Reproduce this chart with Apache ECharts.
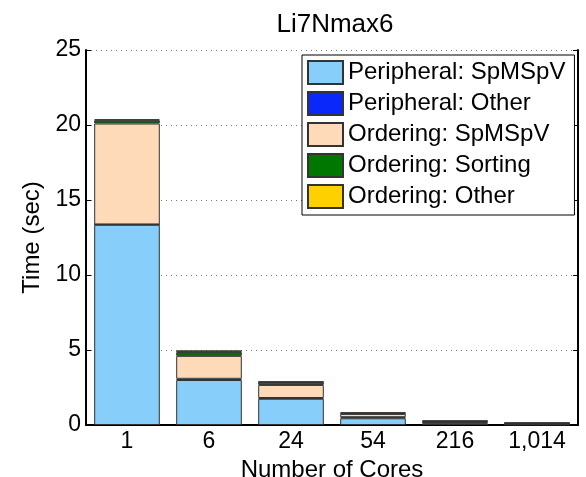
<!DOCTYPE html>
<html>
<head>
<meta charset="utf-8">
<script src="https://cdn.jsdelivr.net/npm/echarts@6/dist/echarts.min.js"></script>
<style>
  html, body { margin: 0; padding: 0; background: #fff; }
  #chart { width: 586px; height: 477px; }
</style>
</head>
<body>
<div id="chart"></div>
<script>
// Core counts on the x axis
const cores = ['1', '6', '24', '54', '216', '1,014'];

// Time breakdown (seconds) for each core count
const peripheralSpMSpV = [13.35, 3.0, 1.75, 0.45, 0.12, 0.03];
const peripheralOther  = [0.02, 0.08, 0.05, 0.07, 0.05, 0.04];
const orderingSpMSpV   = [6.73, 1.53, 0.87, 0.22, 0.05, 0.03];
const orderingSorting  = [0.22, 0.25, 0.2, 0.05, 0.04, 0.03];
const orderingOther    = [0.06, 0.12, 0.02, 0.05, 0.03, 0.02];

const yTicks = [0, 5, 10, 15, 20, 25];

const FONT = 'Liberation Sans, Arial, Helvetica, sans-serif';
const TICK_FONT_SIZE = 23;
const NAME_FONT_SIZE = 24;

const seriesDefs = [
  { name: 'Peripheral: SpMSpV', data: peripheralSpMSpV, color: '#87CEFA' },
  { name: 'Peripheral: Other',  data: peripheralOther,  color: '#0A28FA' },
  { name: 'Ordering: SpMSpV',   data: orderingSpMSpV,   color: '#FFDAB9' },
  { name: 'Ordering: Sorting',  data: orderingSorting,  color: '#007800' },
  { name: 'Ordering: Other',    data: orderingOther,    color: '#FFD000' }
];

const chart = echarts.init(document.getElementById('chart'), null, { renderer: 'canvas' });

const option = {
  animation: false,
  backgroundColor: '#ffffff',
  textStyle: { fontFamily: FONT },
  title: {
    text: 'Li7Nmax6',
    left: 330,
    textAlign: 'center',
    top: 7,
    textStyle: { fontFamily: FONT, fontSize: 26, fontWeight: 'normal', color: '#000' }
  },
  legend: {
    orient: 'vertical',
    left: 302,
    top: 55,
    icon: 'rect',
    itemWidth: 35,
    itemHeight: 23,
    itemGap: 6,
    padding: [5, 9, 6, 5],
    borderColor: '#000',
    borderWidth: 1,
    backgroundColor: '#fff',
    textStyle: { fontFamily: FONT, fontSize: 24, lineHeight: 23, color: '#000' },
    data: seriesDefs.map(s => s.name)
  },
  grid: { left: 86, right: 8, top: 50, bottom: 52, containLabel: false, outerBoundsMode: 'none' },
  xAxis: [
    {
      type: 'category',
      data: cores,
      name: 'Number of Cores',
      nameLocation: 'middle',
      nameGap: 27,
      nameTextStyle: { fontFamily: FONT, fontSize: NAME_FONT_SIZE, color: '#000' },
      axisLine: { lineStyle: { color: '#000', width: 2 } },
      axisTick: { alignWithLabel: true, inside: true, length: 5, lineStyle: { color: '#000', width: 1 } },
      axisLabel: { fontFamily: FONT, fontSize: TICK_FONT_SIZE, color: '#000', margin: 5 },
      splitLine: { show: false }
    },
    {
      type: 'category',
      data: cores,
      position: 'top',
      axisLine: { lineStyle: { color: '#000', width: 2 } },
      axisTick: { alignWithLabel: true, inside: true, length: 5, lineStyle: { color: '#000', width: 1 } },
      axisLabel: { show: false },
      splitLine: { show: false }
    }
  ],
  yAxis: [
    {
      type: 'value',
      min: 0,
      max: 25,
      interval: 5,
      name: 'Time (sec)',
      nameLocation: 'middle',
      nameGap: 36,
      nameTextStyle: { fontFamily: FONT, fontSize: NAME_FONT_SIZE, color: '#000' },
      axisLine: { show: true, lineStyle: { color: '#000', width: 2 } },
      axisTick: { show: true, inside: true, length: 5, lineStyle: { color: '#000', width: 1 } },
      axisLabel: {
        fontFamily: FONT, fontSize: TICK_FONT_SIZE, color: '#000', margin: 5,
        formatter: v => (yTicks.indexOf(v) >= 0 ? String(v) : '')
      },
      splitLine: { show: true, lineStyle: { color: '#777', type: [1, 4], width: 1 } }
    },
    {
      type: 'value',
      min: 0,
      max: 25,
      interval: 5,
      position: 'right',
      axisLine: { show: true, lineStyle: { color: '#000', width: 2 } },
      axisTick: { show: true, inside: true, length: 5, lineStyle: { color: '#000', width: 1 } },
      axisLabel: { show: false },
      splitLine: { show: false }
    }
  ],
  series: seriesDefs.map(s => ({
    name: s.name,
    type: 'bar',
    stack: 'total',
    data: s.data,
    barWidth: '80%',
    xAxisIndex: 0,
    yAxisIndex: 0,
    itemStyle: { color: s.color, borderColor: '#333', borderWidth: 1 },
    emphasis: { disabled: true }
  }))
};

chart.setOption(option);
</script>
</body>
</html>
